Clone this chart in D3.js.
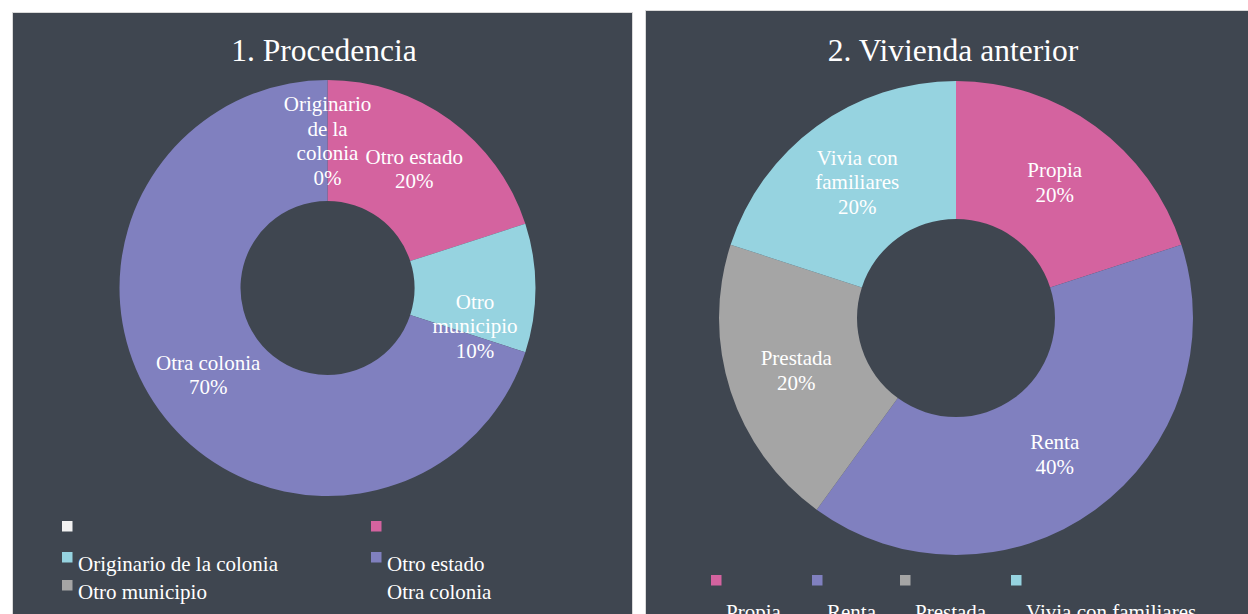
<!DOCTYPE html>
<html>
<head>
<meta charset="utf-8">
<script src="https://cdn.jsdelivr.net/npm/d3@7"></script>
<style>
  body { margin: 0; background: #ffffff; }
  svg { display: block; }
  text { font-family: "Liberation Serif", "Times New Roman", serif; fill: #ffffff; }
</style>
</head>
<body>
<svg id="chart" width="1248" height="614"></svg>
<script>
// chart 1 - procedencia
const procCategories = ["Originario de la colonia", "Otro estado", "Otro municipio", "Otra colonia"];
const procValues = [0, 20, 10, 70];
const procLabelLines = [["Originario", "de la", "colonia"], ["Otro estado"], ["Otro", "municipio"], ["Otra colonia"]];
const procPercents = ["0%", "20%", "10%", "70%"];
// legend as it shows in the original (labels shifted against the swatches)
const procLegendColors = ["#f2f2f2", "#d4639f", "#96d3e0", "#8080bf", "#a5a5a5", null];
const procLegendLabels = ["", "", "Originario de la colonia", "Otro estado", "Otro municipio", "Otra colonia"];

// chart 2 - vivienda anterior
const vivCategories = ["Propia", "Renta", "Prestada", "Vivia con familiares"];
const vivValues = [20, 40, 20, 20];
const vivLabelLines = [["Propia"], ["Renta"], ["Prestada"], ["Vivia con", "familiares"]];
const vivPercents = ["20%", "40%", "20%", "20%"];

const procColors = ["#f2f2f2", "#d4639f", "#96d3e0", "#8080bf"];
const vivColors = ["#d4639f", "#8080bf", "#a5a5a5", "#96d3e0"];

const svg = d3.select("#chart");
const bg = "#3f4650";

// panels
svg.append("rect").attr("x", 12.5).attr("y", 12.5).attr("width", 620).attr("height", 610)
    .attr("fill", bg).attr("stroke", "#d9d9d9").attr("stroke-width", 1);
svg.append("rect").attr("x", 645.5).attr("y", 10.5).attr("width", 610).attr("height", 610)
    .attr("fill", bg).attr("stroke", "#d9d9d9").attr("stroke-width", 1);

const lineH = 24.5;
const labelSize = "21px";

function drawDonut(cfg) {
    const g = svg.append("g").attr("transform", `translate(${cfg.cx},${cfg.cy})`);
    const pie = d3.pie().sort(null).value(d => d);
    const arcs = pie(cfg.values);
    const arc = d3.arc().innerRadius(cfg.inner).outerRadius(cfg.outer);

    g.selectAll("path")
        .data(arcs)
        .join("path")
        .attr("d", arc)
        .attr("fill", (d, i) => cfg.colors[i]);

    // slice labels at the centroid, one tspan per line
    const labels = g.selectAll(".slice-label")
        .data(arcs)
        .join("text")
        .attr("class", "slice-label")
        .attr("text-anchor", "middle")
        .style("font-size", labelSize)
        .attr("transform", (d, i) => {
            const c = arc.centroid(d);
            const nudge = cfg.nudge ? cfg.nudge[i] : 0;
            return `translate(${c[0]},${c[1] + nudge})`;
        });

    labels.each(function(d, i) {
        const lines = cfg.lines[i].concat([cfg.percents[i]]);
        const t = d3.select(this);
        const top = -(lines.length - 1) * lineH / 2;
        lines.forEach((l, j) => {
            t.append("tspan")
                .attr("x", 0)
                .attr("y", top + j * lineH)
                .attr("dy", "0.35em")
                .text(l);
        });
    });

    svg.append("text")
        .attr("x", cfg.titleX)
        .attr("y", 61)
        .attr("text-anchor", "middle")
        .style("font-size", "31.5px")
        .text(cfg.title);
}

drawDonut({
    cx: 327.5, cy: 288, outer: 208, inner: 87,
    values: procValues, colors: procColors,
    lines: procLabelLines, percents: procPercents,
    nudge: [0, 0, 38, 0],
    title: "1. Procedencia", titleX: 324
});

drawDonut({
    cx: 956, cy: 318, outer: 237, inner: 99,
    values: vivValues, colors: vivColors,
    lines: vivLabelLines, percents: vivPercents,
    title: "2. Vivienda anterior", titleX: 953
});

// left legend (two columns, three rows)
const legX = d3.scalePoint().domain([0, 1]).range([62, 371]);
const legRowY = [521, 552, 580];
const leftLeg = svg.append("g");
const legItems = procLegendLabels.map((l, i) => ({label: l, color: procLegendColors[i], col: i % 2, row: Math.floor(i / 2)}));

leftLeg.selectAll("rect")
    .data(legItems.filter(d => d.color))
    .join("rect")
    .attr("x", d => legX(d.col))
    .attr("y", d => legRowY[d.row])
    .attr("width", 10.5)
    .attr("height", 10.5)
    .attr("fill", d => d.color);

leftLeg.selectAll("text")
    .data(legItems.filter(d => d.label))
    .join("text")
    .attr("x", d => legX(d.col) + 16)
    .attr("y", d => legRowY[d.row] + 18.5)
    .style("font-size", labelSize)
    .text(d => d.label);

// right legend (swatches above, labels below, cut by the bottom edge)
const rightLeg = svg.append("g");
const swatchX = [711, 812, 900, 1011];
rightLeg.selectAll("rect")
    .data(vivCategories)
    .join("rect")
    .attr("x", (d, i) => swatchX[i])
    .attr("y", 575)
    .attr("width", 10.5)
    .attr("height", 10.5)
    .attr("fill", (d, i) => vivColors[i]);

rightLeg.selectAll("text")
    .data(vivCategories)
    .join("text")
    .attr("x", (d, i) => swatchX[i] + 15)
    .attr("y", 619)
    .style("font-size", labelSize)
    .text(d => d);
</script>
</body>
</html>
